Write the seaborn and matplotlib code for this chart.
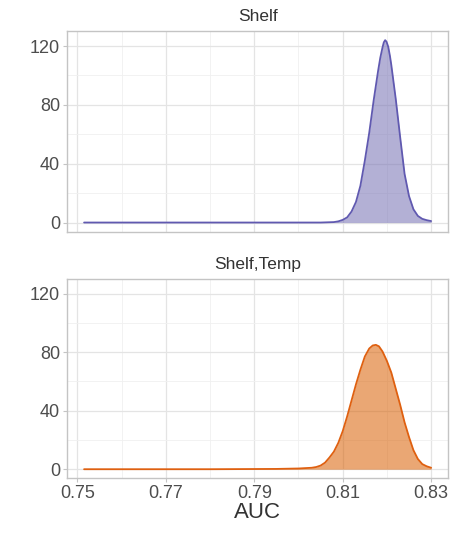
import numpy as np
import pandas as pd
import matplotlib
matplotlib.use("Agg")
import matplotlib.pyplot as plt
import seaborn as sns

# density curves (AUC -> density)
shelf_auc = [0.7515, 0.780, 0.805, 0.808, 0.809, 0.810, 0.811, 0.812, 0.813, 0.814,
             0.815, 0.816, 0.817, 0.818, 0.8185, 0.819, 0.8193, 0.8196, 0.8199, 0.8203,
             0.8207, 0.821, 0.822, 0.823, 0.824, 0.825, 0.826, 0.827, 0.828, 0.829, 0.830]
shelf_dens = [0, 0, 0, 0.3, 0.8, 1.8, 3.5, 7.5, 14, 25,
              42, 61, 83, 103, 112, 119, 122.5, 124, 123, 119.5,
              113, 107, 84, 58, 33, 18, 9, 4.5, 2.5, 1.6, 1.0]

temp_auc = [0.7515, 0.780, 0.795, 0.800, 0.803, 0.804, 0.805, 0.806, 0.807, 0.808,
            0.809, 0.810, 0.811, 0.812, 0.813, 0.814, 0.815, 0.816, 0.8168, 0.8175,
            0.8182, 0.819, 0.820, 0.821, 0.822, 0.823, 0.824, 0.825, 0.826, 0.827,
            0.828, 0.829, 0.830]
temp_dens = [0, 0, 0.2, 0.5, 1, 1.5, 2.5, 4.5, 8, 12,
             18, 26, 36, 47, 58, 68, 77, 82.5, 84.6, 85,
             84, 80.5, 74, 66, 55, 44, 32, 22, 13, 7,
             3.5, 2, 1]

panels = ["Shelf", "Shelf,Temp"]
line_colors = ["#6059b0", "#df6010"]
fill_colors = ["#7570b3", "#d95f02"]

df = pd.concat([
    pd.DataFrame({"AUC": shelf_auc, "density": shelf_dens, "model": panels[0]}),
    pd.DataFrame({"AUC": temp_auc, "density": temp_dens, "model": panels[1]}),
])

sns.set_style("white")
plt.rcParams["font.family"] = ["Liberation Sans", "DejaVu Sans"]

fig = plt.figure(figsize=(4.69, 5.35), dpi=100)
ax_top = fig.add_axes([0.1425, 0.567, 0.8135, 0.375])
ax_bot = fig.add_axes([0.1425, 0.106, 0.8135, 0.373], sharey=ax_top)

for ax, name, lc, fc in zip([ax_top, ax_bot], panels, line_colors, fill_colors):
    sub = df[df["model"] == name]
    ax.fill_between(sub["AUC"], 0, sub["density"], color=fc, alpha=0.55, lw=0, zorder=2)
    sns.lineplot(data=sub, x="AUC", y="density", color=lc, lw=1.3, ax=ax, zorder=3,
                 solid_joinstyle="round")

    ax.set_xlim(0.7476, 0.8339)
    ax.set_ylim(-6.2, 130.2)
    ax.set_xticks([0.75, 0.77, 0.79, 0.81, 0.83])
    ax.set_xticks([0.76, 0.78, 0.80, 0.82], minor=True)
    ax.set_yticks([0, 40, 80, 120])
    ax.set_yticks([20, 60, 100], minor=True)
    ax.grid(which="major", color="#e4e4e4", lw=0.9, zorder=0)
    ax.grid(which="minor", color="#f0f0f0", lw=0.6, zorder=0)
    ax.set_axisbelow(True)
    for s in ax.spines.values():
        s.set_color("#c4c4c4")
        s.set_linewidth(1.0)
    ax.tick_params(which="major", direction="out", length=3, width=0.8, color="#c4c4c4",
                   labelsize=13, labelcolor="#4d4d4d", pad=2, left=True, bottom=True)
    ax.tick_params(which="minor", length=0)
    ax.set_title(name, fontsize=12.5, color="#333333", pad=7)
    ax.set_ylabel("")
    ax.set_xlabel("")

ax_top.tick_params(axis="x", which="major", bottom=False, labelbottom=False)
ax_top.set_yticklabels(["0", "40", "80", "120"])
ax_bot.set_yticklabels(["0", "40", "80", "120"])
ax_bot.set_xticklabels(["0.75", "0.77", "0.79", "0.81", "0.83"])
ax_bot.set_xlabel("AUC", fontsize=16, color="#333333", labelpad=0)

plt.savefig("out.png", dpi=100)
